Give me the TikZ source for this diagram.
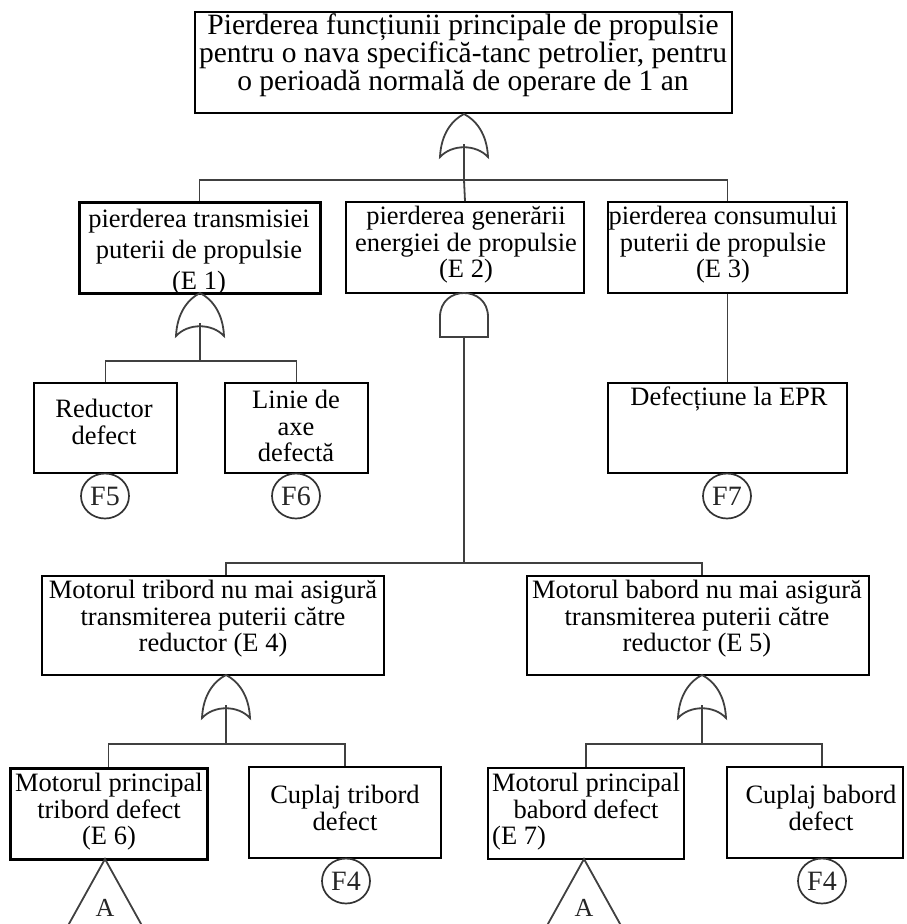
\documentclass[tikz,border=0pt]{standalone}
\usepackage{fontspec}
\setmainfont{Liberation Serif}
\usetikzlibrary{shapes.geometric}

\begin{document}
\begin{tikzpicture}[x=1pt, y=-1pt,
    event/.style ={rectangle, draw, line width=1.8pt, inner sep=0pt},
    thickevent/.style ={event, line width=3pt},
    txt/.style ={align=center, inner sep=0pt, font=\fontsize{26.5}{26.5}\selectfont},
    basic/.style ={ellipse, draw=black!80, line width=1.7pt, inner sep=0pt,
        minimum width=48pt, minimum height=45pt,
        text=black!85, font=\fontsize{28}{28}\selectfont},
    link/.style ={line width=1.8pt, black!75},
    gate/.style ={line width=1.8pt, black!75},
    orgate/.pic ={
      \draw[gate] (-24,43) .. controls (-23,20) and (-12,6) .. (0,0)
                  .. controls (12,6) and (23,20) .. (24,43)
                  .. controls (12,30) and (-12,30) .. cycle;
      \coordinate (-top) at (0,0);
      \coordinate (-bot) at (0,30);},
    andgate/.pic ={
      \draw[gate] (-24,44) -- (-24,24) .. controls (-24,-8) and (24,-8) .. (24,24)
                  -- (24,44) -- cycle;
      \coordinate (-top) at (0,0);
      \coordinate (-bot) at (0,44);}]
   \clip (0,0) rectangle (906,924);
   % top event
   \node[event, minimum width=537pt, minimum height=101pt] (top) at (463.5,62.5) {};
   \node[txt, font=\fontsize{29.5}{26.5}\selectfont] (topt) at (463,55)
      {Pierderea funcțiunii principale de propulsie\\ pentru o nava specifică-tanc petrolier, pentru\\ o perioadă normală de operare de 1 an};
   \pic (g0) at (464,114) {orgate};
   % level 1
   \node[thickevent, minimum width=241pt, minimum height=91pt] (e1) at (199.5,247.5) {};
   \node[event, minimum width=238pt, minimum height=91pt] (e2) at (465,247.5) {};
   \node[event, minimum width=239pt, minimum height=91pt] (e3) at (727.5,247.5) {};
   \node[txt, font=\fontsize{26.5}{31}\selectfont] (e1t) at (199,252) {pierderea transmisiei\\ puterii de propulsie\\ (E 1)};
   \node[txt] (e2t) at (466,245) {pierderea generării\\ energiei de propulsie\\ (E 2)};
   \node[txt] (e3t) at (723,245) {pierderea consumului\\ puterii de propulsie\\ (E 3)};
   \coordinate (b0) at (464,180);
   \draw[link] (g0-bot) -- (b0);
   \draw[link] (e1.north) |- (b0) -| (e3.north);
   \draw[link] (b0) -- (e2.north);
   \pic (g1) at (200,293) {orgate};
   \pic (g2) at (464,293) {andgate};
   % level 2
   \node[event, minimum width=143pt, minimum height=90pt] (red) at (105.5,428) {};
   \node[event, minimum width=143pt, minimum height=90pt] (lin) at (296.5,428) {};
   \node[event, minimum width=239pt, minimum height=90pt] (epr) at (727.5,428) {};
   \node[txt] (redt) at (104,422) {Reductor\\ defect};
   \node[txt] (lint) at (296,426) {Linie de\\ axe\\ defectă};
   \node[txt] (eprt) at (729,399) {Defecțiune la EPR};
   \coordinate (b1) at (200,361);
   \draw[link] (g1-bot) -- (b1);
   \draw[link] (red.north) |- (b1) -| (lin.north);
   \draw[link] (e3.south) -- (epr.north);
   \node[basic] (f5) at (105,496) {F5};
   \node[basic] (f6) at (296,496) {F6};
   \node[basic] (f7) at (727,496) {F7};
   % level 3
   \node[event, minimum width=342pt, minimum height=99pt] (e4) at (213,625.5) {};
   \node[event, minimum width=342pt, minimum height=99pt] (e5) at (698,625.5) {};
   \node[txt] (e4t) at (213,619) {Motorul tribord nu mai asigură\\ transmiterea puterii către\\ reductor (E 4)};
   \node[txt] (e5t) at (697,619) {Motorul babord nu mai asigură\\ transmiterea puterii către\\ reductor (E 5)};
   \pic (g4) at (226,675) {orgate};
   \pic (g5) at (702,675) {orgate};
   \coordinate (b2) at (464,563);
   \draw[link] (g2-bot) -- (b2);
   \draw[link] (e4.north -| g4-top) |- (b2) -| (e5.north -| g5-top);
   % level 4
   \node[thickevent, minimum width=197pt, minimum height=91pt] (e6) at (108.5,813.5) {};
   \node[event, minimum width=192pt, minimum height=91pt] (cpt) at (345,812.5) {};
   \node[event, minimum width=196pt, minimum height=91pt] (e7) at (586,813.5) {};
   \node[event, minimum width=176pt, minimum height=91pt] (cpb) at (815,812.5) {};
   \node[txt] (e6t) at (109,812) {Motorul principal\\ tribord defect\\ (E 6)};
   \node[txt] (cptt) at (345,808) {Cuplaj tribord\\ defect};
   \node[txt] (e7t) at (586,812) {Motorul principal\\ babord defect\\ \makebox[7.08em][l]{(E 7)}};
   \node[txt] (cpbt) at (821,808) {Cuplaj babord\\ defect};
   \node[basic] (f4a) at (346,881) {F4};
   \node[basic] (f4b) at (822,881) {F4};
   \coordinate (b4) at (226,744);
   \coordinate (b5) at (702,744);
   \draw[link] (g4-bot) -- (b4);
   \draw[link] (g5-bot) -- (b5);
   \draw[link] (e6.north) |- (b4) -| (cpt.north);
   \draw[link] (e7.north) |- (b5) -| (cpb.north -| f4b);
   % transfer triangles
   \coordinate (a1) at (105,859);
   \coordinate (a2) at (584,859);
   \draw[gate] (a1) -- ++(45,81) -- ++(-90,0) -- cycle;
   \draw[gate] (a2) -- ++(45,81) -- ++(-90,0) -- cycle;
   \node[font=\fontsize{26}{26}\selectfont, text=black!85] (a1t) at (105,908) {A};
   \node[font=\fontsize{26}{26}\selectfont, text=black!85] (a2t) at (584,908) {A};
 \end{tikzpicture}
\end{document}
